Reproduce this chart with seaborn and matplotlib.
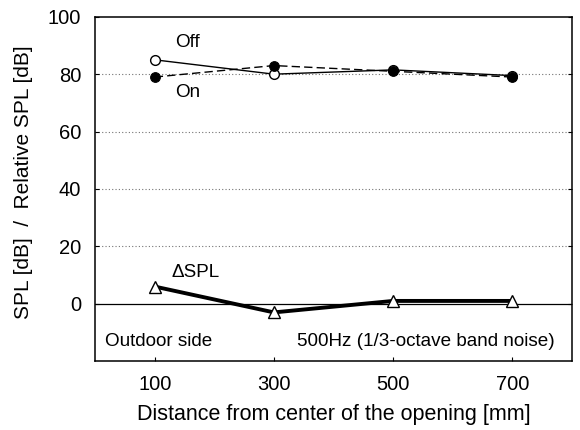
import matplotlib
matplotlib.use("Agg")
import matplotlib.pyplot as plt
import seaborn as sns
import pandas as pd

# Measurement positions [mm] and levels [dB]
distance = [100, 300, 500, 700]
spl_off = [85, 80, 81.5, 79.5]
spl_on = [79, 83, 81, 79]
delta_spl = [6, -3, 1, 1]

x_ticks = [100, 300, 500, 700]
y_ticks = [0, 20, 40, 60, 80, 100]

sns.set_style("ticks")
plt.rcParams["font.family"] = ["Liberation Sans", "DejaVu Sans"]
plt.rcParams["text.color"] = "black"
plt.rcParams["axes.labelcolor"] = "black"

df = pd.DataFrame({"distance": distance, "off": spl_off, "on": spl_on, "delta": delta_spl})

fig, ax = plt.subplots(figsize=(5.8, 4.3), dpi=100)
fig.subplots_adjust(left=0.164, right=0.986, top=0.961, bottom=0.16)

# reference lines
for yv in [20, 40, 60, 80]:
    ax.axhline(yv, color="0.45", lw=0.8, ls=(0, (1, 2)), zorder=0)
ax.axhline(0, color="black", lw=0.9, zorder=0)

sns.lineplot(data=df, x="distance", y="off", ax=ax, color="black", lw=1.0,
             marker="o", markersize=7, markerfacecolor="white",
             markeredgecolor="black", markeredgewidth=1.0)
sns.lineplot(data=df, x="distance", y="on", ax=ax, color="black", lw=1.0,
             ls=(0, (6, 3)), marker="o", markersize=7, markerfacecolor="black",
             markeredgecolor="black")
sns.lineplot(data=df, x="distance", y="delta", ax=ax, color="black", lw=2.8,
             marker="^", markersize=8, markerfacecolor="white",
             markeredgecolor="black", markeredgewidth=1.0)

ann = 13.6
ax.text(134, 91, "Off", fontsize=ann, va="center", ha="left")
ax.text(134, 73.5, "On", fontsize=ann, va="center", ha="left")
ax.text(129, 11, "ΔSPL", fontsize=ann, va="center", ha="left")
ax.text(16, -13, "Outdoor side", fontsize=ann, va="center", ha="left")
ax.text(338, -13, "500Hz (1/3-octave band noise)", fontsize=ann, va="center", ha="left")

ax.set_xlim(0, 800)
ax.set_ylim(-20, 100)
ax.set_xticks(x_ticks)
ax.set_yticks(y_ticks)
ax.tick_params(direction="in", length=3, width=0.8, labelsize=14.5, pad=10,
               right=True, colors="black")
ax.set_xlabel("Distance from center of the opening [mm]", fontsize=15.5, labelpad=7)
ax.set_ylabel("SPL [dB]  /  Relative SPL [dB]", fontsize=15)
ax.yaxis.set_label_coords(-0.13, 0.52)
for s in ax.spines.values():
    s.set_linewidth(1.1)
    s.set_color("black")

fig.savefig("out.png", dpi=100, facecolor="white")
